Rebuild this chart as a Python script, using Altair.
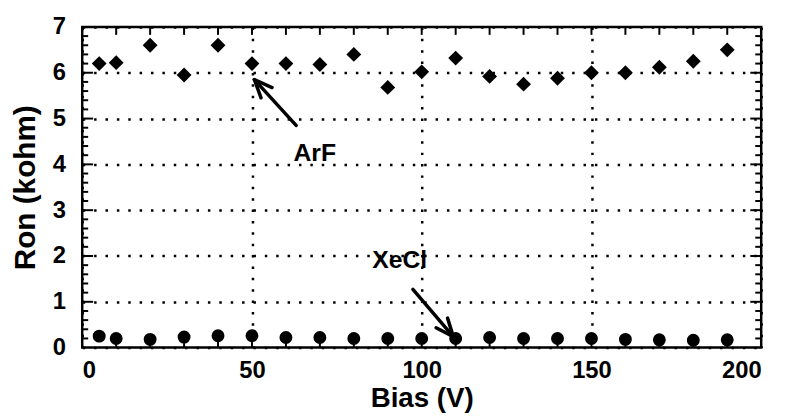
import altair as alt
import pandas as pd

# ---- data ----
bias = [5, 10, 20, 30, 40, 50, 60, 70, 80, 90, 100, 110, 120, 130, 140, 150, 160, 170, 180, 190]
ron_arf = [6.2, 6.22, 6.6, 5.95, 6.6, 6.2, 6.2, 6.18, 6.4, 5.68, 6.02, 6.32, 5.92, 5.75, 5.88, 6.0, 6.0, 6.12, 6.25, 6.5]
ron_xecl = [0.25, 0.2, 0.18, 0.23, 0.26, 0.26, 0.22, 0.22, 0.2, 0.2, 0.2, 0.2, 0.22, 0.2, 0.2, 0.2, 0.18, 0.17, 0.16, 0.17]

x_labels = [0, 50, 100, 150, 200]
y_labels = [0, 1, 2, 3, 4, 5, 6, 7]
x_minor = list(range(10, 200, 10))
y_minor = [round(i * 0.2, 1) for i in range(1, 35) if i % 5 != 0]

ann_text = ["ArF", "XeCl"]
ann_x = [68.5, 93.5]
ann_y = [4.25, 1.9]
arrow_tail_x = [63.0, 97.4]
arrow_tail_y = [4.85, 1.27]
arrow_head_x = [50.7, 109.3]
arrow_head_y = [5.85, 0.24]
arrow_angle = [317, 140]

W, H = 686, 324
FONT = "Liberation Sans"

xs = alt.Scale(domain=[0, 200], nice=False, zero=False)
ys = alt.Scale(domain=[0, 7], nice=False, zero=False)

pts = pd.DataFrame({"bias": bias, "arf": ron_arf, "xecl": ron_xecl})
xmin_df = pd.DataFrame({"v": x_minor})
ymin_df = pd.DataFrame({"v": y_minor})
ymaj_df = pd.DataFrame({"v": y_labels[1:-1]})
ann_df = pd.DataFrame({"t": ann_text, "x": ann_x, "y": ann_y})
arr_df = pd.DataFrame({"x": arrow_tail_x, "y": arrow_tail_y,
                       "x2": arrow_head_x, "y2": arrow_head_y, "a": arrow_angle})

x_axis = alt.Axis(values=x_labels, format="d", labelFont=FONT, labelFontSize=24,
                  labelFontWeight="bold", labelColor="black", labelPadding=11,
                  ticks=False, domain=False, grid=True, gridColor="black",
                  gridDash=[2.5, 9], gridWidth=2.5, gridOpacity=1,
                  title="Bias (V)", titleFont=FONT, titleFontSize=28,
                  titleFontWeight="bold", titleColor="black", titlePadding=3)
y_axis = alt.Axis(values=y_labels, format="d", labelFont=FONT, labelFontSize=24,
                  labelFontWeight="bold", labelColor="black", labelPadding=17,
                  ticks=False, domain=False, grid=True, gridColor="black",
                  gridDash=[2.5, 9], gridWidth=2.5, gridOpacity=1,
                  title="Ron (kohm)", titleFont=FONT, titleFontSize=30,
                  titleFontWeight="bold", titleColor="black", titlePadding=12)


def X(f):
    return alt.X(f, scale=xs, axis=x_axis)


def Y(f):
    return alt.Y(f, scale=ys, axis=y_axis)


arf_layer = alt.Chart(pts).mark_point(shape="diamond", filled=True, color="black",
                                      size=225, opacity=1).encode(
    x=X("bias:Q"), y=Y("arf:Q"))
xecl_layer = alt.Chart(pts).mark_point(shape="circle", filled=True, color="black",
                                       size=170, opacity=1).encode(
    x=X("bias:Q"), y=Y("xecl:Q"))

# inward ticks
xt_bottom = alt.Chart(xmin_df).mark_rule(color="black", strokeWidth=2).encode(
    x=X("v:Q"), y=alt.value(H), y2=alt.value(H - 8))
xt_top = alt.Chart(xmin_df).mark_rule(color="black", strokeWidth=2).encode(
    x=X("v:Q"), y=alt.value(0), y2=alt.value(8))
yt_left_min = alt.Chart(ymin_df).mark_rule(color="black", strokeWidth=2).encode(
    y=Y("v:Q"), x=alt.value(0), x2=alt.value(6))
yt_right_min = alt.Chart(ymin_df).mark_rule(color="black", strokeWidth=2).encode(
    y=Y("v:Q"), x=alt.value(W), x2=alt.value(W - 6))
yt_left_maj = alt.Chart(ymaj_df).mark_rule(color="black", strokeWidth=2).encode(
    y=Y("v:Q"), x=alt.value(0), x2=alt.value(11))
yt_right_maj = alt.Chart(ymaj_df).mark_rule(color="black", strokeWidth=2).encode(
    y=Y("v:Q"), x=alt.value(W), x2=alt.value(W - 11))

# annotations
ann = alt.Chart(ann_df).mark_text(font=FONT, fontSize=25, fontWeight="bold",
                                  color="black", align="center", baseline="middle").encode(
    x=X("x:Q"), y=Y("y:Q"), text="t:N")
shafts = alt.Chart(arr_df).mark_rule(color="black", strokeWidth=3.5, strokeCap="round").encode(
    x=X("x:Q"), y=Y("y:Q"), x2="x2:Q", y2="y2:Q")
heads = alt.Chart(arr_df).mark_point(shape="M -0.42 1 L 0 0 L 0.42 1", filled=False,
                                     color="black", strokeWidth=3.5, size=1300,
                                     opacity=1, strokeCap="round", strokeJoin="round").encode(
    x=X("x2:Q"), y=Y("y2:Q"), angle=alt.Angle("a:Q", scale=None))

chart = alt.layer(arf_layer, xecl_layer, xt_bottom, xt_top, yt_left_min, yt_right_min,
                  yt_left_maj, yt_right_maj, shafts, heads, ann).properties(
    width=W, height=H,
    autosize=alt.AutoSizeParams(type="none"),
    padding={"left": 75, "top": 17, "right": 19, "bottom": 70},
    background="white",
).configure_view(stroke="black", strokeWidth=2.5)

chart.save("out.html", embed_options={"renderer": "svg", "actions": False})
